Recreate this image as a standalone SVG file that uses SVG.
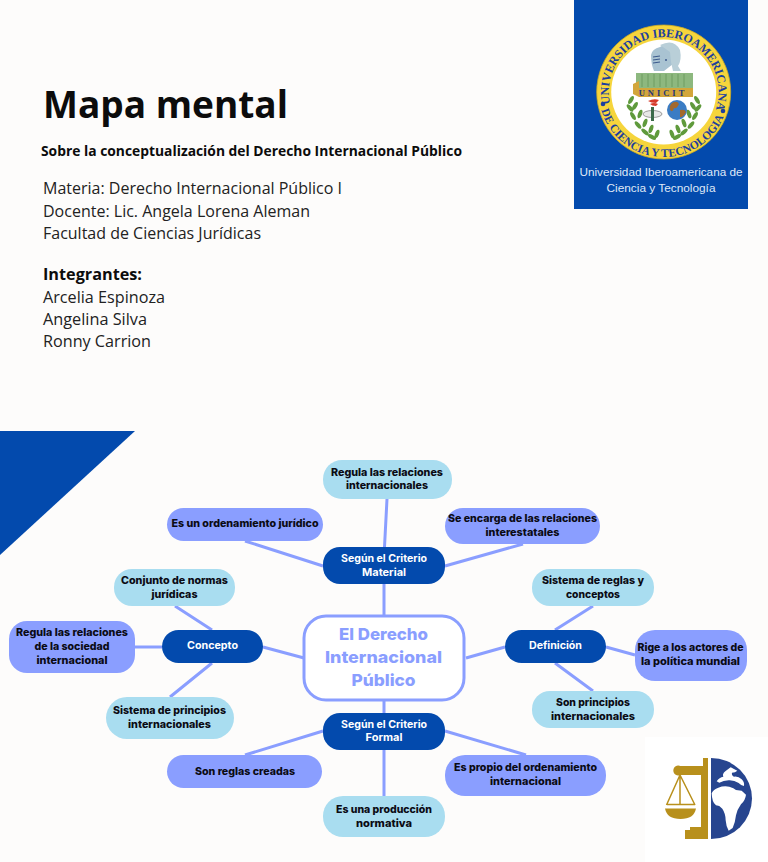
<svg xmlns="http://www.w3.org/2000/svg" width="768" height="862" viewBox="0 0 768 862">
<style>
.hd{font-family:"Open Sans","Liberation Sans",sans-serif;fill:#0c0c0c}
.r{font-size:16.5px;font-weight:400;fill:#222}
.n{font-family:Inter,"Liberation Sans",sans-serif;font-weight:800;font-size:10.5px;text-anchor:middle;fill:#0b0b14}
.w{fill:#fff;font-weight:700}
.c{stroke:#8a9eff;stroke-width:3;fill:none}
.dk{fill:#034aad}.lt{fill:#a9ddf0}.pe{fill:#8a9eff}
.seal{font-family:"Liberation Serif",serif;font-weight:700;font-size:11.5px;fill:#1d3f9e;text-anchor:middle}
.lf{fill:#5f9a3c}
</style>
<defs>
<path id="arcTop" d="M 663.700 147 A 55 55 0 0 1 663.700 37 A 55 55 0 0 1 663.700 147"/>
<path id="arcBot" d="M 663.700 27 A 65 65 0 0 0 663.700 157 A 65 65 0 0 0 663.700 27"/>
<ellipse id="leaf" cx="0" cy="0" rx="4.500" ry="2" class="lf"/>
</defs>
<rect width="768" height="862" fill="#fdfcfb"/>
<polygon points="0,431 135,431 0,555" fill="#034aad"/>

<g id="header">
<text class="hd" x="43" y="118" font-size="37" font-weight="700" textLength="245" lengthAdjust="spacingAndGlyphs">Mapa mental</text>
<text class="hd" x="41" y="155.500" font-size="14.300" font-weight="700" textLength="421" lengthAdjust="spacingAndGlyphs">Sobre la conceptualización del Derecho Internacional Público</text>
<text class="hd r" x="43" y="194" textLength="299" lengthAdjust="spacingAndGlyphs">Materia: Derecho Internacional Público I</text>
<text class="hd r" x="43" y="217" textLength="267" lengthAdjust="spacingAndGlyphs">Docente: Lic. Angela Lorena Aleman</text>
<text class="hd r" x="43" y="239" textLength="218" lengthAdjust="spacingAndGlyphs">Facultad de Ciencias Jurídicas</text>
<text class="hd" x="43" y="280" font-size="16.500" font-weight="700" textLength="99" lengthAdjust="spacingAndGlyphs">Integrantes:</text>
<text class="hd r" x="43" y="303" textLength="122" lengthAdjust="spacingAndGlyphs">Arcelia Espinoza</text>
<text class="hd r" x="43" y="325" textLength="104" lengthAdjust="spacingAndGlyphs">Angelina Silva</text>
<text class="hd r" x="43" y="347" textLength="108" lengthAdjust="spacingAndGlyphs">Ronny Carrion</text>
</g>

<g id="logo-universidad">
<rect x="574" y="0" width="174" height="209" fill="#034aad"/>
<circle cx="663.700" cy="92" r="67" fill="#f6d53c"/>
<circle cx="663.700" cy="92" r="52.500" fill="#fff"/>
<circle cx="663.700" cy="92" r="67" fill="none" stroke="#c9a825" stroke-width="0.800"/>
<g transform="rotate(3 663.700 92)">
<text class="seal" style="font-size:12px"><textPath href="#arcTop" startOffset="50%">UNIVERSIDAD IBEROAMERICANA</textPath></text>
<text class="seal"><textPath href="#arcBot" startOffset="50%">DE CIENCIA Y TECNOLOGIA</textPath></text>
</g>
<circle cx="603" cy="104" r="2.300" fill="#1d3f9e"/><circle cx="723" cy="111" r="2.300" fill="#1d3f9e"/>
<path d="M651 55 Q652 49 660 47 Q666 43 668 46 L672 55 L673 64 L664 71 L654 71 Q651 64 651 55Z" fill="#a9c3d2"/>
<path d="M660 45 Q674 38 680 50 Q682 60 678 66 L681 71 L673 71 L671 62 L670 52Z" fill="#b9cfd8"/>
<path d="M653 57 l7 -1 M653 60 l7 -1 M653 63 l7 -1" stroke="#3c5a8c" stroke-width="1.200"/>
<circle cx="666" cy="60" r="1" fill="#3c5a8c"/>
<rect x="636" y="73" width="57" height="15" fill="#8db87f"/>
<path d="M642 74v13M648 74v13M654 74v13M660 74v13M666 74v13M672 74v13M678 74v13M684 74v13" stroke="#6f9c62" stroke-width="1"/>
<path d="M633 84 l6 -3 v7 h54 v9 h-54 l-6 -3z" fill="#d3a63b"/>
<text x="663" y="95.500" font-family="Liberation Serif,serif" font-weight="700" font-size="8.500" text-anchor="middle" letter-spacing="3" fill="#23357a">UNICIT</text>
<use href="#leaf" transform="translate(631,100) rotate(-60)"/><use href="#leaf" transform="translate(630,108) rotate(50)"/><use href="#leaf" transform="translate(635,106) rotate(-60)"/><use href="#leaf" transform="translate(633,116) rotate(60)"/><use href="#leaf" transform="translate(640,114) rotate(-70)"/><use href="#leaf" transform="translate(638,125) rotate(50)"/><use href="#leaf" transform="translate(645,123) rotate(-70)"/><use href="#leaf" transform="translate(645,132) rotate(40)"/><use href="#leaf" transform="translate(651,129) rotate(-70)"/><use href="#leaf" transform="translate(652,137) rotate(30)"/><use href="#leaf" transform="translate(657,134) rotate(-70)"/>
<use href="#leaf" transform="translate(697,100) rotate(60)"/><use href="#leaf" transform="translate(698,108) rotate(-50)"/><use href="#leaf" transform="translate(693,106) rotate(60)"/><use href="#leaf" transform="translate(695,116) rotate(-60)"/><use href="#leaf" transform="translate(689,114) rotate(70)"/><use href="#leaf" transform="translate(691,125) rotate(-50)"/><use href="#leaf" transform="translate(684,123) rotate(70)"/><use href="#leaf" transform="translate(684,132) rotate(-40)"/><use href="#leaf" transform="translate(678,129) rotate(70)"/><use href="#leaf" transform="translate(677,137) rotate(-30)"/><use href="#leaf" transform="translate(672,134) rotate(70)"/>
<path d="M648 101 q6 -3 11 -1 l-3 3 q-5 0 -8 -2z M650 104 q4 -2 8 0 l-2 2 q-4 0 -6 -2z" fill="#d63a2a"/>
<ellipse cx="652.500" cy="114" rx="9.500" ry="3.500" fill="#e8e8e8" stroke="#777" stroke-width="0.700"/>
<rect x="651" y="107" width="3" height="14" fill="#3c6a4a"/>
<circle cx="677" cy="110" r="10" fill="#3a7cc4"/>
<path d="M672 103 q5 -3 7 1 q-2 5 -5 4 q-1 5 -4 2 q-1 -4 2 -7z M680 110 q5 -1 6 2 q-3 6 -6 5z" fill="#a3692c"/>
<text font-family="Liberation Sans,sans-serif" font-size="11.500" fill="#dfe8f7" text-anchor="middle"><tspan x="661" y="175.500" textLength="163" lengthAdjust="spacingAndGlyphs">Universidad Iberoamericana de</tspan><tspan x="661" y="192" textLength="109" lengthAdjust="spacingAndGlyphs">Ciencia y Tecnología</tspan></text>
</g>

<g id="logo-balanza">
<rect x="645" y="737" width="123" height="125" fill="#fff"/>
<path d="M711 758 A41 40.500 0 0 1 711 839 Z" fill="#27458f"/>
<g transform="translate(660,752) scale(.3333)" fill="#fff">
<path d="M155 124 Q160 112 175 107 Q190 101 208 104 Q222 108 228 114 L245 116 L258 128 Q256 145 243 157 Q232 172 228 190 Q226 210 218 228 L206 236 Q198 222 197 205 Q197 185 187 170 Q178 160 168 160 Q156 152 155 124Z"/>
<path d="M170 88 Q178 76 190 74 Q186 66 196 58 Q206 51 212 46 Q222 51 232 56 Q226 62 216 62 Q214 70 222 74 Q235 72 245 82 Q254 90 252 102 Q243 100 236 93 Q222 84 206 85 Q190 86 178 92Z"/>
</g>
<path d="M703 758 h5 v81 h-23 v-9 h5 v-3 h11 v-52 h-20.500 a5 5 0 1 1 0 -9 h22.500 z" fill="#b8901c"/>
<path d="M680 775 L666.500 805 M680 775 L695 805 M680 775 V805 M667 804.500 H695" fill="none" stroke="#b8901c" stroke-width="1.500"/>
<path d="M665 808.500 H696 Q694 819 680.500 819 Q667 819 665 808.500 Z" fill="#b8901c"/>
</g>

<g id="connectors">
<path class="c" d="M384 584V616M384 700V713M384 750V796M384.500 547L387 499M323 566L245 541M445 566L523 544"/>
<path class="c" d="M263 647L304 658M162 647H135M212 630L175 606M212 663L170 697"/>
<path class="c" d="M505 647L466 658M606 647L635 655M555 630L593 606M555 663L593 691"/>
<path class="c" d="M323 731L245 755M445 731L526 755"/>
</g>

<g id="central"><rect x="304" y="616" width="160" height="84" rx="22" fill="#fff" stroke="#8a9eff" stroke-width="3"/>
<text class="n" style="fill:#8a9eff;font-size:16.500px;font-weight:800"><tspan x="383.500" y="640" textLength="89" lengthAdjust="spacingAndGlyphs">El Derecho</tspan><tspan x="383.500" y="663" textLength="117" lengthAdjust="spacingAndGlyphs">Internacional</tspan><tspan x="383.500" y="686" textLength="64" lengthAdjust="spacingAndGlyphs">Público</tspan></text></g>

<g id="n-material"><rect class="dk" x="323" y="547" width="122" height="37" rx="17"/><text class="n w"><tspan x="384" y="561.500" textLength="86" lengthAdjust="spacingAndGlyphs">Según el Criterio</tspan><tspan x="384" y="575.500" textLength="44" lengthAdjust="spacingAndGlyphs">Material</tspan></text></g>
<g id="n-formal"><rect class="dk" x="323" y="713" width="122" height="37" rx="17"/><text class="n w"><tspan x="384" y="727.500" textLength="86" lengthAdjust="spacingAndGlyphs">Según el Criterio</tspan><tspan x="384" y="741" textLength="37" lengthAdjust="spacingAndGlyphs">Formal</tspan></text></g>
<g id="n-concepto"><rect class="dk" x="162" y="630" width="101" height="33" rx="16.500"/><text class="n w" x="212.500" y="649" textLength="51" lengthAdjust="spacingAndGlyphs">Concepto</text></g>
<g id="n-definicion"><rect class="dk" x="505" y="630" width="101" height="33" rx="16.500"/><text class="n w" x="555.500" y="649" textLength="53" lengthAdjust="spacingAndGlyphs">Definición</text></g>

<g id="n-regula-int"><rect class="lt" x="323" y="460" width="129" height="39" rx="19"/><text class="n"><tspan x="387" y="475.500" textLength="112" lengthAdjust="spacingAndGlyphs">Regula las relaciones</tspan><tspan x="387" y="488.500" textLength="82" lengthAdjust="spacingAndGlyphs">internacionales</tspan></text></g>
<g id="n-ordenamiento"><rect class="pe" x="167" y="508" width="156" height="33" rx="16.500"/><text class="n" x="245" y="526.500" textLength="147" lengthAdjust="spacingAndGlyphs">Es un ordenamiento jurídico</text></g>
<g id="n-encarga"><rect class="pe" x="445" y="508" width="155" height="36" rx="18"/><text class="n"><tspan x="522.500" y="521.500" textLength="149" lengthAdjust="spacingAndGlyphs">Se encarga de las relaciones</tspan><tspan x="522.500" y="535.500" textLength="74" lengthAdjust="spacingAndGlyphs">interestatales</tspan></text></g>
<g id="n-conjunto"><rect class="lt" x="114" y="569" width="121" height="37" rx="18"/><text class="n"><tspan x="174.500" y="583.500" textLength="107" lengthAdjust="spacingAndGlyphs">Conjunto de normas</tspan><tspan x="174.500" y="597.500" textLength="46" lengthAdjust="spacingAndGlyphs">jurídicas</tspan></text></g>
<g id="n-regula-soc"><rect class="pe" x="9" y="621" width="126" height="52" rx="18"/><text class="n"><tspan x="72" y="635.500" textLength="112" lengthAdjust="spacingAndGlyphs">Regula las relaciones</tspan><tspan x="72" y="649.500" textLength="75" lengthAdjust="spacingAndGlyphs">de la sociedad</tspan><tspan x="72" y="663.500" textLength="71" lengthAdjust="spacingAndGlyphs">internacional</tspan></text></g>
<g id="n-sistema-pr"><rect class="lt" x="106" y="697" width="128" height="42" rx="21"/><text class="n"><tspan x="169.500" y="713.500" textLength="113" lengthAdjust="spacingAndGlyphs">Sistema de principios</tspan><tspan x="169.500" y="727.500" textLength="83" lengthAdjust="spacingAndGlyphs">internacionales</tspan></text></g>
<g id="n-sistema-re"><rect class="lt" x="532" y="569" width="122" height="37" rx="18"/><text class="n"><tspan x="593" y="583.500" textLength="102" lengthAdjust="spacingAndGlyphs">Sistema de reglas y</tspan><tspan x="593" y="597.500" textLength="54" lengthAdjust="spacingAndGlyphs">conceptos</tspan></text></g>
<g id="n-rige"><rect class="pe" x="635" y="630" width="112" height="51" rx="20"/><text class="n"><tspan x="690.500" y="651" textLength="106" lengthAdjust="spacingAndGlyphs">Rige a los actores de</tspan><tspan x="690.500" y="665" textLength="99" lengthAdjust="spacingAndGlyphs">la política mundial</tspan></text></g>
<g id="n-son-pr"><rect class="lt" x="532" y="691" width="122" height="37" rx="18"/><text class="n"><tspan x="593" y="705.500" textLength="74" lengthAdjust="spacingAndGlyphs">Son principios</tspan><tspan x="593" y="719.500" textLength="84" lengthAdjust="spacingAndGlyphs">internacionales</tspan></text></g>
<g id="n-reglas"><rect class="pe" x="167" y="755" width="155" height="33" rx="16.500"/><text class="n" x="245" y="774.500" textLength="100" lengthAdjust="spacingAndGlyphs">Son reglas creadas</text></g>
<g id="n-propio"><rect class="pe" x="445" y="755" width="161" height="41" rx="20"/><text class="n"><tspan x="525.500" y="771" textLength="143" lengthAdjust="spacingAndGlyphs">Es propio del ordenamiento</tspan><tspan x="525.500" y="785" textLength="71" lengthAdjust="spacingAndGlyphs">internacional</tspan></text></g>
<g id="n-produccion"><rect class="lt" x="323" y="796" width="122" height="41" rx="20"/><text class="n"><tspan x="384" y="812.500" textLength="96" lengthAdjust="spacingAndGlyphs">Es una producción</tspan><tspan x="384" y="826.500" textLength="56" lengthAdjust="spacingAndGlyphs">normativa</tspan></text></g>
</svg>
